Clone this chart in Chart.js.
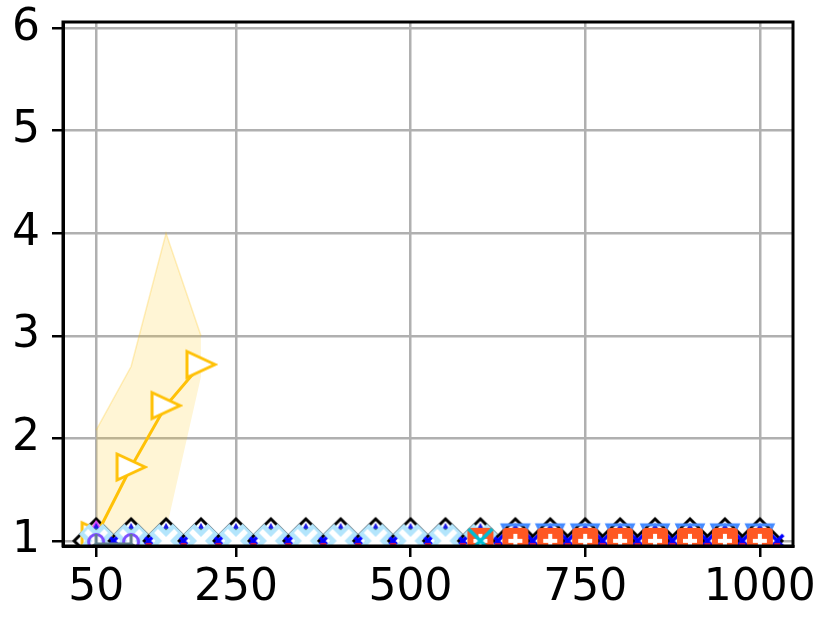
<!DOCTYPE html>
<html>
<head>
<meta charset="utf-8">
<script src="https://cdn.jsdelivr.net/npm/chart.js@4/dist/chart.umd.min.js"></script>
<style>
  body { margin: 0; background: #fff; }
  canvas { display: block; }
</style>
</head>
<body>
<canvas id="chart" width="830" height="622"></canvas>
<script>
// x positions used by most of the flat series
const xs = [50, 100, 150, 200, 250, 300, 350, 400, 450, 500, 550, 600, 650, 700, 750, 800, 850, 900, 950, 1000];
const xsMid = [75, 125, 175, 225, 275, 325, 375, 425, 475, 525, 575, 625, 675, 725, 775, 825, 875, 925, 975, 1025];
const flatY = [1, 1, 1, 1, 1, 1, 1, 1, 1, 1, 1, 1, 1, 1, 1, 1, 1, 1, 1, 1];

// amber series with its band
const amberX = [50, 100, 150, 200];
const amberY = [1.05, 1.72, 2.32, 2.72];
const amberLo = [1.0, 1.0, 1.1, 2.6];
const amberHi = [2.08, 2.7, 4.0, 3.0];

// light blue X series (left part) and red-orange P series (right part)
const lightX = [50, 100, 150, 200, 250, 300, 350, 400, 450, 500, 550, 600];
const lightY = [1, 1, 1, 1, 1, 1, 1, 1, 1, 1, 1, 1];
const redX = [600, 650, 700, 750, 800, 850, 900, 950, 1000];
const redY = [1, 1, 1, 1, 1, 1, 1, 1, 1];
const vX = [650, 700, 750, 800, 850, 900, 950, 1000];
const vY = [1, 1, 1, 1, 1, 1, 1, 1];

// small extras at the left end
const purpleX = [50, 100];
const purpleY = [0.99, 0.99];
const grayX = [50, 100];
const grayY = [0.97, 0.97];
const magentaX = [50];
const magentaY = [1];
const cyanX = [600];
const cyanY = [1];

const xTicks = [50, 250, 500, 750, 1000];
const yTicks = [1, 2, 3, 4, 5, 6];

const pts = (x, y) => x.map((v, i) => ({ x: v, y: y[i] }));

// marker images
function mk(size, draw) {
  const c = document.createElement("canvas");
  c.width = size;
  c.height = size;
  const g = c.getContext("2d");
  g.translate(size / 2, size / 2);
  draw(g);
  return c;
}

function poly(g, p) {
  g.beginPath();
  g.moveTo(p[0][0], p[0][1]);
  for (let i = 1; i < p.length; i++) g.lineTo(p[i][0], p[i][1]);
  g.closePath();
}

const diamond = mk(52, g => {
  poly(g, [[0, -22], [22, 0], [0, 22], [-22, 0]]);
  g.fillStyle = "#fff";
  g.fill();
  g.lineWidth = 3;
  g.strokeStyle = "#000";
  g.stroke();
});

const midCross = mk(24, g => {
  g.strokeStyle = "#0000ff";
  g.lineWidth = 3.5;
  g.beginPath();
  g.moveTo(-6, -6); g.lineTo(6, 6);
  g.moveTo(-6, 6); g.lineTo(6, -6);
  g.stroke();
  g.fillStyle = "#c2185b";
  g.fillRect(-3, 2, 6, 3);
});

const blueTri = mk(40, g => {
  poly(g, [[0, -18], [12, 4], [-12, 4]]);
  g.fillStyle = "#1a1ae6";
  g.fill();
});
const greenTri = mk(30, g => {
  poly(g, [[0, -13], [8, 2], [-8, 2]]);
  g.fillStyle = "#43a047";
  g.fill();
});
const redTri = mk(20, g => {
  poly(g, [[0, -9], [6, 1], [-6, 1]]);
  g.fillStyle = "#f44336";
  g.fill();
});

const lightXMark = mk(44, g => {
  g.lineCap = "butt";
  g.strokeStyle = "#b3e5fc";
  g.lineWidth = 15;
  g.beginPath();
  g.moveTo(-12, -12); g.lineTo(12, 12);
  g.moveTo(-12, 12); g.lineTo(12, -12);
  g.stroke();
  g.strokeStyle = "#fff";
  g.lineWidth = 5.5;
  g.beginPath();
  g.moveTo(-10, -10); g.lineTo(10, 10);
  g.moveTo(-10, 10); g.lineTo(10, -10);
  g.stroke();
});

const pMark = mk(32, g => {
  g.fillStyle = "#ff5722";
  g.beginPath();
  g.roundRect(-13, -13, 26, 26, 4);
  g.fill();
  g.strokeStyle = "#fff";
  g.lineWidth = 4;
  g.beginPath();
  g.moveTo(-7, 0); g.lineTo(7, 0);
  g.moveTo(0, -7); g.lineTo(0, 7);
  g.stroke();
});

const vMark = mk(40, g => {
  poly(g, [[-13, -16], [13, -16], [0, 11]]);
  g.lineWidth = 3;
  g.strokeStyle = "#448aff";
  g.stroke();
});

const cyanMark = mk(34, g => {
  g.strokeStyle = "#00bcd4";
  g.lineWidth = 3.5;
  g.beginPath();
  g.moveTo(-12, -12); g.lineTo(12, 12);
  g.moveTo(-12, 12); g.lineTo(12, -12);
  g.stroke();
});

const purpleMark = mk(24, g => {
  g.strokeStyle = "#7c4dff";
  g.lineWidth = 3;
  g.beginPath();
  g.arc(0, 0, 7.5, 0, Math.PI * 2);
  g.stroke();
});

const grayMark = mk(26, g => {
  g.strokeStyle = "#607d8b";
  g.lineWidth = 3;
  g.beginPath();
  g.moveTo(0, 0); g.lineTo(0, -10);
  g.moveTo(0, 0); g.lineTo(-8, 5);
  g.moveTo(0, 0); g.lineTo(8, 5);
  g.stroke();
});

const magentaMark = mk(50, g => {
  poly(g, [[0, -21], [9, -6], [-9, -6]]);
  g.fillStyle = "#e040fb";
  g.fill();
});

const amberMark = mk(34, g => {
  poly(g, [[14, 0], [-14, -13], [-14, 13]]);
  g.fillStyle = "#fff";
  g.fill();
  g.lineWidth = 3;
  g.strokeStyle = "#ffc107";
  g.stroke();
});

function markers(x, y, style, order) {
  return {
    data: pts(x, y),
    showLine: false,
    pointStyle: style,
    pointRadius: 10,
    pointHoverRadius: 10,
    order: order,
    clip: 0
  };
}

const frame = {
  id: "frame",
  afterDraw(chart) {
    const { ctx, chartArea: a } = chart;
    ctx.save();
    ctx.strokeStyle = "#000";
    ctx.lineWidth = 3;
    ctx.strokeRect(a.left, a.top, a.right - a.left, a.bottom - a.top);
    ctx.restore();
  }
};

const tickFont = { family: "DejaVu Sans", size: 44 };

new Chart(document.getElementById("chart").getContext("2d"), {
  type: "line",
  data: {
    datasets: [
      {
        data: pts(amberX, amberLo),
        borderWidth: 0,
        pointRadius: 0,
        fill: false,
        order: 100,
        clip: 0
      },
      {
        data: pts(amberX, amberHi),
        borderWidth: 1.5,
        borderColor: "rgba(255, 193, 7, 0.25)",
        backgroundColor: "rgba(255, 193, 7, 0.17)",
        pointRadius: 0,
        fill: "-1",
        order: 99,
        clip: 0
      },
      markers(xs, flatY, diamond, 90),
      {
        data: pts(amberX, amberY),
        borderColor: "#ffc107",
        borderWidth: 3,
        pointStyle: amberMark,
        pointRadius: 10,
        fill: false,
        order: 87,
        clip: 0
      },
      markers(xsMid, flatY, midCross, 85),
      markers(magentaX, magentaY, magentaMark, 84),
      markers(xs, flatY, blueTri, 80),
      markers(xs, flatY, greenTri, 79),
      markers(xs, flatY, redTri, 78),
      markers(vX, vY, vMark, 75),
      markers(lightX, lightY, lightXMark, 70),
      markers(redX, redY, pMark, 65),
      markers(purpleX, purpleY, purpleMark, 60),
      {
        data: pts(grayX, grayY),
        borderColor: "#607d8b",
        borderWidth: 3,
        pointStyle: grayMark,
        pointRadius: 10,
        order: 55,
        clip: 0
      },
      markers(cyanX, cyanY, cyanMark, 50)
    ]
  },
  options: {
    responsive: false,
    animation: false,
    devicePixelRatio: 1,
    layout: { padding: { top: 22, right: 37, left: 0, bottom: 0 } },
    plugins: {
      legend: { display: false },
      tooltip: { enabled: false }
    },
    scales: {
      x: {
        type: "linear",
        min: 2.5,
        max: 1047.5,
        afterBuildTicks: s => { s.ticks = xTicks.map(v => ({ value: v })); },
        afterFit: s => { s.height = 76; s.paddingLeft = 0; s.paddingRight = 0; },
        grid: { color: "#b0b0b0", lineWidth: 2.5, tickColor: "#000", tickLength: 11, tickWidth: 2.5 },
        border: { display: true, color: "#000", width: 3 },
        ticks: {
          font: tickFont, color: "#000", padding: 5, maxRotation: 0, autoSkip: false,
          callback: v => String(v)
        }
      },
      y: {
        type: "linear",
        min: 0.95,
        max: 6.06,
        afterBuildTicks: s => { s.ticks = yTicks.map(v => ({ value: v })); },
        afterFit: s => { s.width = 63; s.paddingTop = 0; s.paddingBottom = 0; },
        grid: { color: "#b0b0b0", lineWidth: 2.5, tickColor: "#000", tickLength: 11, tickWidth: 2.5 },
        border: { display: true, color: "#000", width: 3 },
        ticks: { font: tickFont, color: "#000", padding: 12, autoSkip: false, callback: v => String(v) }
      }
    }
  },
  plugins: [frame]
});
</script>
</body>
</html>
